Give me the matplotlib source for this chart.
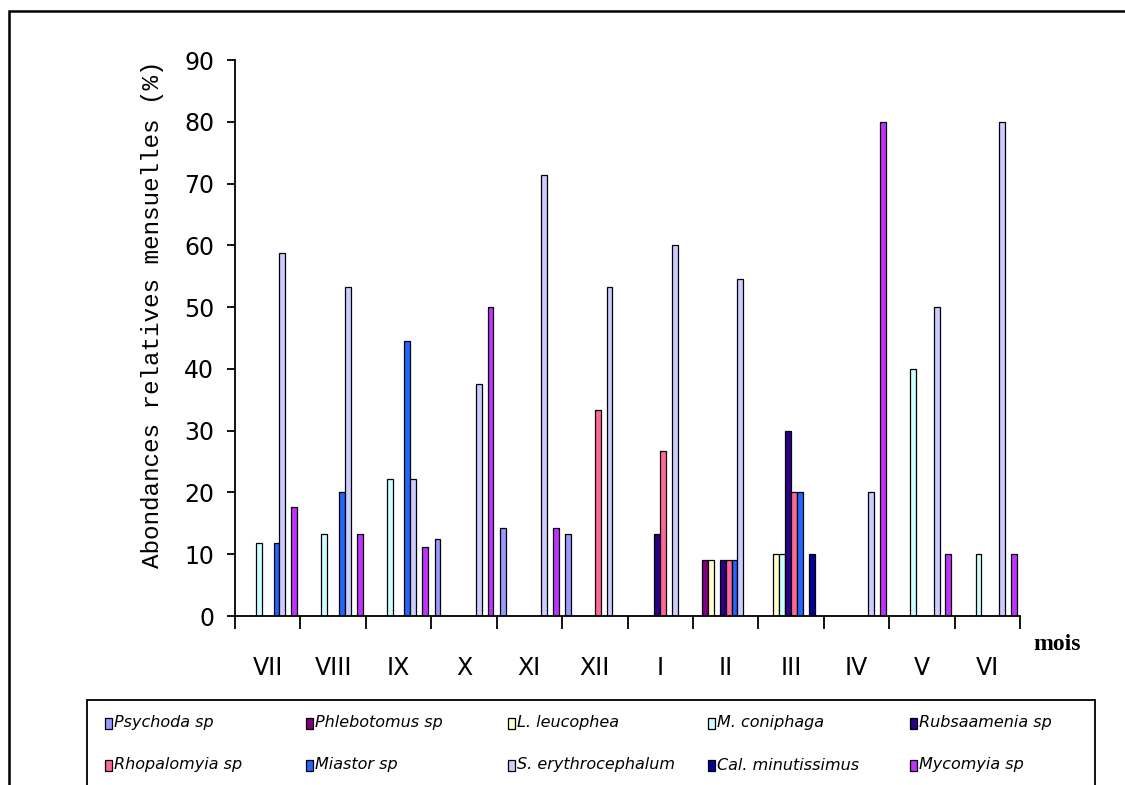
import matplotlib
matplotlib.use("Agg")
import matplotlib.pyplot as plt
from matplotlib.patches import Rectangle
import numpy as np

# Months (July -> June)
months = ["VII", "VIII", "IX", "X", "XI", "XII", "I", "II", "III", "IV", "V", "VI"]

# Relative monthly abundances (%) per taxon
psychoda = [0, 0, 0, 12.5, 14.29, 13.33, 0, 0, 0, 0, 0, 0]
phlebotomus = [0, 0, 0, 0, 0, 0, 0, 9.09, 0, 0, 0, 0]
l_leucophea = [0, 0, 0, 0, 0, 0, 0, 9.09, 10, 0, 0, 0]
m_coniphaga = [11.76, 13.33, 22.22, 0, 0, 0, 0, 0, 10, 0, 40, 10]
rubsaamenia = [0, 0, 0, 0, 0, 0, 13.33, 9.09, 30, 0, 0, 0]
rhopalomyia = [0, 0, 0, 0, 0, 33.33, 26.67, 9.09, 20, 0, 0, 0]
miastor = [11.76, 20, 44.44, 0, 0, 0, 0, 9.09, 20, 0, 0, 0]
s_erythrocephalum = [58.82, 53.33, 22.22, 37.5, 71.43, 53.33, 60, 54.55, 0, 20, 50, 80]
cal_minutissimus = [0, 0, 0, 0, 0, 0, 0, 0, 10, 0, 0, 0]
mycomyia = [17.65, 13.33, 11.11, 50, 14.29, 0, 0, 0, 0, 80, 10, 10]

species_names = ["Psychoda sp", "Phlebotomus sp", "L. leucophea", "M. coniphaga",
                 "Rubsaamenia sp", "Rhopalomyia sp", "Miastor sp",
                 "S. erythrocephalum", "Cal. minutissimus", "Mycomyia sp"]
series = [psychoda, phlebotomus, l_leucophea, m_coniphaga, rubsaamenia,
          rhopalomyia, miastor, s_erythrocephalum, cal_minutissimus, mycomyia]
colors = ["#9999FF", "#800080", "#FFFFCC", "#CCFFFF", "#2B0088",
          "#FF6699", "#2266FF", "#CCCCFF", "#00009C", "#C033FF"]

yticks = [0, 10, 20, 30, 40, 50, 60, 70, 80, 90]

sans = ["DejaVu Sans"]
mono = ["Liberation Mono", "DejaVu Sans Mono"]
serif = ["Liberation Serif", "DejaVu Serif"]

W, H = 1125, 785
fig = plt.figure(figsize=(W / 100, H / 100), dpi=100)
fig.patch.set_facecolor("white")


def fx(px):
    return px / W


def fy(py):
    return 1 - py / H


# Plot area
x0, x1, ytop, ybot = 235, 1020, 60, 616
ax = fig.add_axes([fx(x0), fy(ybot), fx(x1 - x0), (ybot - ytop) / H])

n = len(series)
gap = 0.10
bw = (1 - gap) / n
xs = np.arange(len(months))
for i, (vals, col) in enumerate(zip(series, colors)):
    pos = xs + gap / 2 + bw * (i + 0.5)
    ax.bar(pos, vals, width=bw, color=col, edgecolor="black", linewidth=0.9,
           zorder=2)

ax.set_xlim(0, len(months))
ax.set_ylim(0, 90)
ax.spines["top"].set_visible(False)
ax.spines["right"].set_visible(False)
for s in ("left", "bottom"):
    ax.spines[s].set_linewidth(1.3)
    ax.spines[s].set_zorder(3)

ax.set_yticks(yticks)
ax.set_yticklabels([str(v) for v in yticks], fontfamily=sans, fontsize=17)
ax.tick_params(axis="y", direction="out", length=6, width=1.3, pad=9)

ax.set_xticks(np.arange(len(months) + 1))
ax.set_xticklabels([])
ax.tick_params(axis="x", which="major", direction="out", length=9, width=1.3)
ax.set_xticks(xs + 0.5, minor=True)
ax.set_xticklabels(months, minor=True, fontfamily=sans, fontsize=17)
ax.tick_params(axis="x", which="minor", length=0, pad=29)

# Axis titles
fig.text(fx(153), fy(314), "Abondances relatives mensuelles (%)", rotation=90,
         ha="center", va="center", fontfamily=mono, fontsize=17.5)
fig.text(fx(1033), fy(644), "mois", ha="left", va="center", fontfamily=serif,
         fontweight="bold", fontsize=17)

# Outer chart frame (runs past the right and bottom edges)
fig.add_artist(Rectangle((fx(9), -0.1), 1.2, fy(11) + 0.1, transform=fig.transFigure,
                         fill=False, edgecolor="black", linewidth=1.8))

# Legend box (runs past the bottom edge)
fig.add_artist(Rectangle((fx(87), -0.1), fx(1095 - 87), fy(700) + 0.1,
                         transform=fig.transFigure, fill=False,
                         edgecolor="black", linewidth=1.3))

col_x = [105, 306, 508, 708, 910]
row_y = [723, 765]
mw, mh = 7, 11
for k, (name, col) in enumerate(zip(species_names, colors)):
    r, c = divmod(k, 5)
    mx, my = col_x[c], row_y[r]
    fig.add_artist(Rectangle((fx(mx), fy(my + mh / 2)), fx(mw), mh / H,
                             transform=fig.transFigure, facecolor=col,
                             edgecolor="black", linewidth=0.9))
    fig.text(fx(mx + mw + 2), fy(my), name, ha="left", va="center",
             fontfamily=sans, fontstyle="italic", fontsize=11.5)

fig.savefig("out.png", dpi=100, facecolor="white")
